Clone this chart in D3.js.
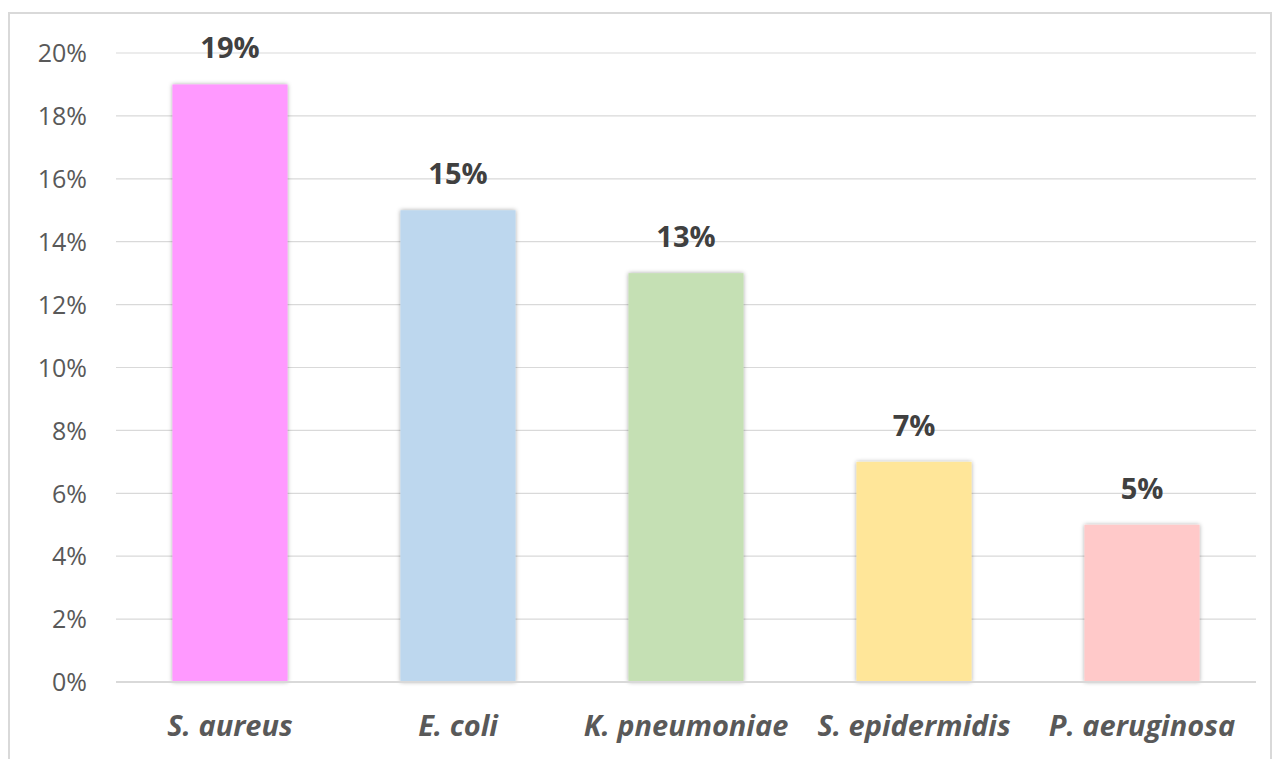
<!DOCTYPE html>
<html><head><meta charset="utf-8">
<script src="https://cdn.jsdelivr.net/npm/d3@7"></script>
<style>body{margin:0;background:#fff;}svg{display:block;}</style>
</head><body>
<svg id="chart" width="1276" height="759"></svg>
<script>
const categories = ["S. aureus", "E. coli", "K. pneumoniae", "S. epidermidis", "P. aeruginosa"];
const values = [0.19, 0.15, 0.13, 0.07, 0.05];
const colors = ["#FF99FF", "#BDD7EE", "#C5E0B4", "#FFE699", "#FFC9C9"];
const yTicks = [0, 0.02, 0.04, 0.06, 0.08, 0.10, 0.12, 0.14, 0.16, 0.18, 0.20];

const svg = d3.select("#chart");
const font = "'Open Sans', Lato, sans-serif";

svg.append("rect").attr("x", 9).attr("y", 13).attr("width", 1262).attr("height", 760)
  .attr("fill", "#fff").attr("stroke", "#d9d9d9").attr("stroke-width", 2);

const defs = svg.append("defs");
const f = defs.append("filter").attr("id", "sh").attr("x", "-20%").attr("y", "-20%").attr("width", "140%").attr("height", "140%");
f.append("feDropShadow").attr("dx", 0).attr("dy", 0).attr("stdDeviation", 2.2)
  .attr("flood-color", "#000").attr("flood-opacity", 0.35);

const x = d3.scaleBand().domain(categories).range([116, 1256]).paddingInner(0.495).paddingOuter(0.2475);
const y = d3.scaleLinear().domain([0, 0.20]).range([682, 53]);

// gridlines
svg.append("g").selectAll("line").data(yTicks.filter(d => d > 0)).join("line")
  .attr("x1", 116).attr("x2", 1256)
  .attr("y1", d => y(d)).attr("y2", d => y(d))
  .attr("stroke", "#d9d9d9").attr("stroke-width", 1.2);

// y axis labels
const yAxis = d3.axisLeft(y).tickValues(yTicks).tickFormat(d3.format(".0%")).tickSize(0).tickPadding(0);
const gy = svg.append("g").attr("transform", "translate(87,0)").call(yAxis);
gy.select(".domain").remove();
gy.selectAll("text").attr("fill", "#595959").style("font-family", font).style("font-size", "25px").attr("dy", "0.35em");

// bars
svg.append("g").selectAll("rect").data(categories).join("rect")
  .attr("x", d => x(d)).attr("width", x.bandwidth())
  .attr("y", (d, i) => y(values[i])).attr("height", (d, i) => y(0) - y(values[i]))
  .attr("fill", (d, i) => colors[i]).attr("filter", "url(#sh)");

// baseline
svg.append("line").attr("x1", 116).attr("x2", 1256).attr("y1", y(0)).attr("y2", y(0))
  .attr("stroke", "#d9d9d9").attr("stroke-width", 2);

// value labels
svg.append("g").selectAll("text").data(categories).join("text")
  .attr("x", d => x(d) + x.bandwidth() / 2)
  .attr("y", (d, i) => y(values[i]) - 26)
  .attr("text-anchor", "middle").attr("fill", "#404040")
  .style("font-family", font).style("font-size", "29px").style("font-weight", "bold")
  .text((d, i) => d3.format(".0%")(values[i]));

// x axis labels
const xAxis = d3.axisBottom(x).tickSize(0).tickPadding(0);
const gx = svg.append("g").attr("transform", "translate(0,736)").call(xAxis);
gx.select(".domain").remove();
gx.selectAll("text").attr("dy", 0).attr("fill", "#595959")
  .style("font-family", font).style("font-size", "29px").style("font-weight", "bold").style("font-style", "italic");
</script>
</body></html>
